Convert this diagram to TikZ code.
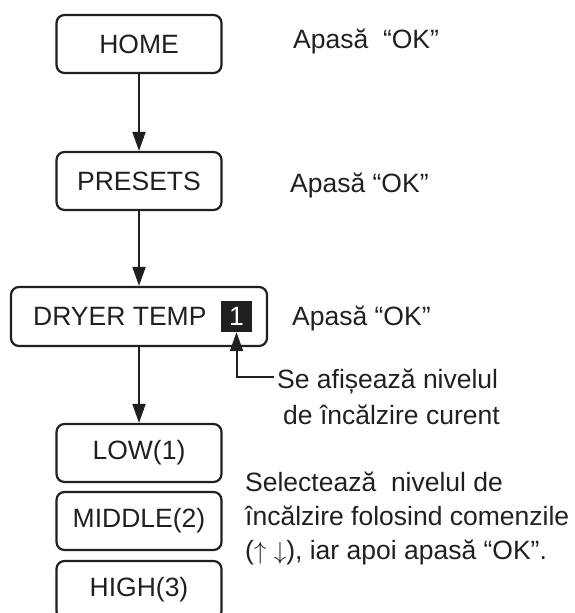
\documentclass[tikz,border=0pt]{standalone}
\usepackage{fontspec}
\setmainfont{Liberation Sans}
\usetikzlibrary{arrows.meta}
\definecolor{ink}{RGB}{35,31,32}
\begin{document}
\begin{tikzpicture}[x=1pt,y=-1pt,
  box/.style={draw=ink, text=ink, line width=2.2pt, rounded corners=8pt, minimum width=165pt, minimum height=58pt, inner sep=0pt, font=\fontsize{26.5}{30}\selectfont},
  lbl/.style={anchor=base west, inner sep=0pt, text=ink, font=\fontsize{26.5}{30}\selectfont},
  arr/.style={draw=ink, line width=2pt, -{Triangle[width=13pt,length=19pt]}}]
\useasboundingbox (0,0) rectangle (574,613);
\clip (0,0) rectangle (574,613);
% boxes
\node[box] (home) at (139,44) {HOME};
\node[box] (presets) at (139,181) {PRESETS};
\node[box, minimum width=256pt, minimum height=59pt] (dryer) at (139,316.5) {};
\node[lbl] (dryertxt) at (33,325) {DRYER TEMP};
\node[fill=ink, text=white, minimum width=31pt, minimum height=31pt, inner sep=0pt, font=\fontsize{26.5}{30}\selectfont] (sq) at (236.5,316.5) {1};
\node[box] (low) at (139,453) {LOW(1)};
\node[box] (middle) at (139,521) {MIDDLE(2)};
\node[box] (high) at (139,590) {HIGH(3)};
% arrows
\draw[arr] (home.south) -- (presets.north);
\draw[arr] (presets.south) -- (dryer.north);
\draw[arr] (dryer.south) -- (low.north);
% labels
\node[lbl] (ok1) at (293,48) {Apasă~~“OK”};
\node[lbl] (ok2) at (290,192) {Apasă “OK”};
\node[lbl] (ok3) at (292,325) {Apasă “OK”};
\node[lbl] (cur1) at (277,388) {Se afișează nivelul};
\node[lbl] (cur2) at (283,424) {de încălzire curent};
\coordinate (elbow) at (sq.south |- 0,377);
\draw[arr] (cur1.west |- elbow) ++(-3,0) -- (elbow) -- (sq.south);
\node[lbl] (sel1) at (245,491) {Selectează~~nivelul de};
\node[lbl] (sel2) at (245,525) {încălzire folosind comenzile};
\node[lbl] (sel3) at (245,559) {($\uparrow$ $\downarrow$), iar apoi apasă “OK”.};
\end{tikzpicture}
\end{document}
